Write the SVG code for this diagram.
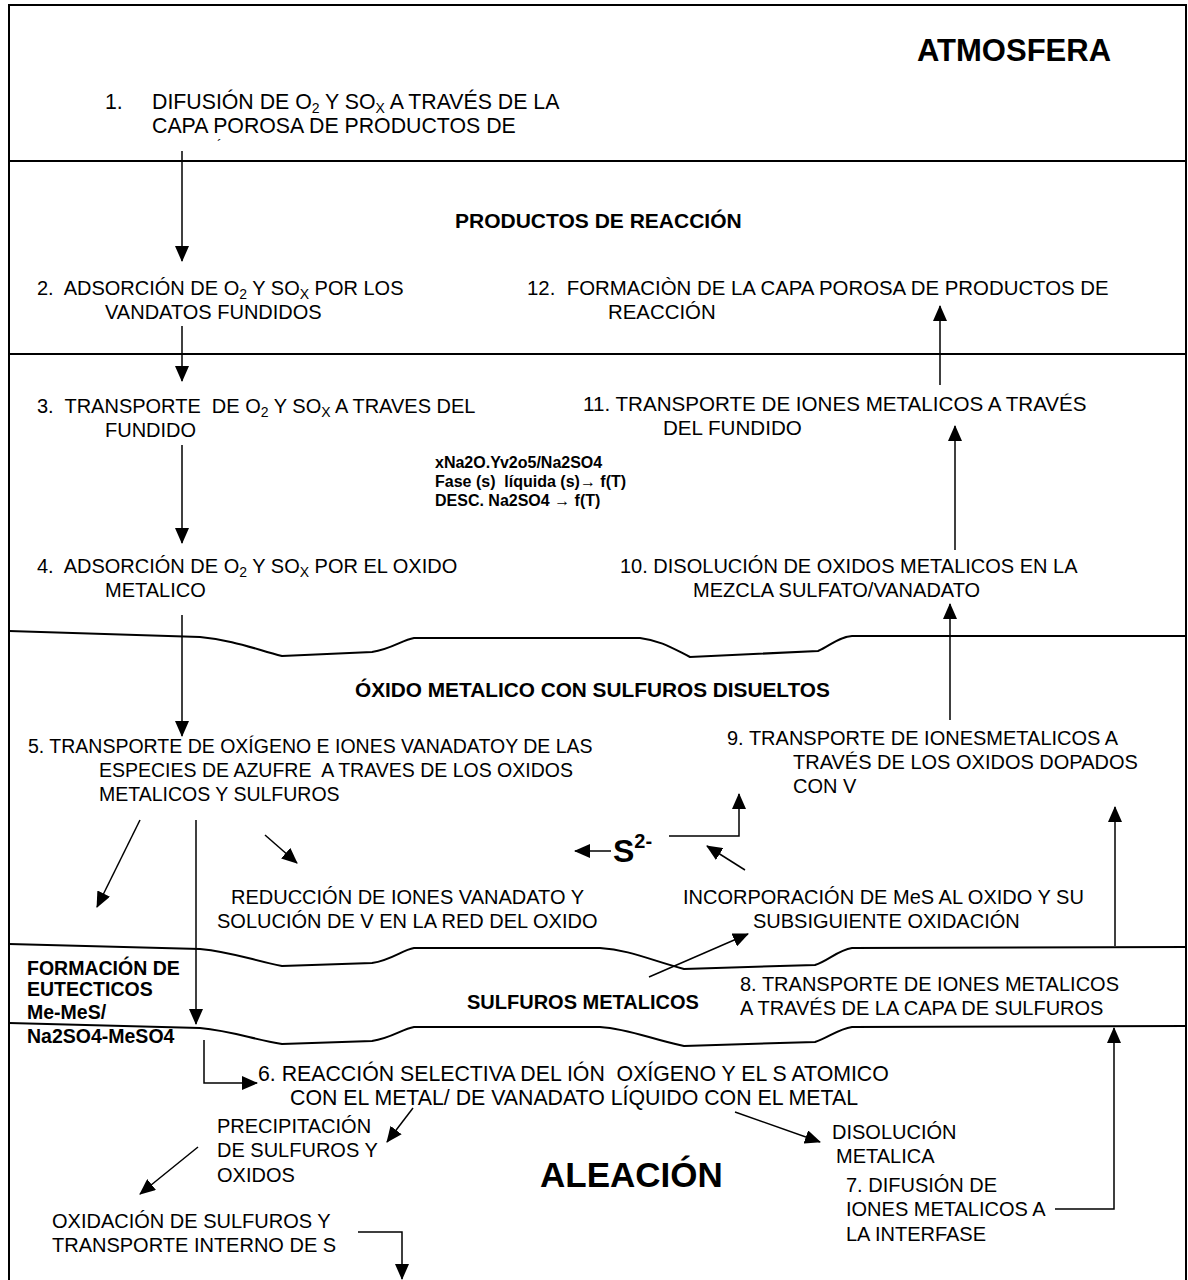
<svg xmlns="http://www.w3.org/2000/svg" width="1188" height="1280" viewBox="0 0 1188 1280">
<style>
text{font-family:"Liberation Sans",Arial,sans-serif;font-size:20px;fill:#000;white-space:pre}
.b{font-weight:bold}
.f{font-weight:bold;font-size:16px}
.big{font-size:21.3px}
.sub{font-size:14px}
.frame{fill:none;stroke:#000;stroke-width:2}
.wave{fill:none;stroke:#000;stroke-width:2}
.c{fill:none;stroke:#000;stroke-width:1.5;marker-end:url(#ah)}
</style>
<defs>
<marker id="ah" markerWidth="16" markerHeight="14" refX="15" refY="7" orient="auto" markerUnits="userSpaceOnUse"><path d="M0,0 L16,7 L0,14 z" fill="#000"/></marker>
</defs>
<rect width="1188" height="1280" fill="#fff"/>
<g id="layers">
<path class="frame" d="M9,1280 V5 H1186 V1280"/>
<line class="frame" x1="9" y1="161" x2="1186" y2="161"/>
<line class="frame" x1="9" y1="354" x2="1186" y2="354"/>
<path class="wave" d="M9,631 L200,637 C232,640 252,648 282,656 L372,652 C392,649 402,640 414,638 L640,638 C662,641 672,648 690,657 L818,651 C830,646 838,637 852,636 L1186,636"/>
<path class="wave" d="M9,944 L200,949 C232,952 252,960 282,966 L372,963 C392,960 402,950 414,948 L600,948 C630,950 650,960 684,969 L815,965 C828,961 838,950 852,948 L1186,947"/>
<path class="wave" d="M9,1023 L200,1028 C232,1031 252,1039 282,1044 L372,1041 C392,1038 402,1029 414,1027 L600,1027 C630,1029 650,1039 684,1046 L815,1042 C828,1038 838,1029 852,1027 L1186,1026"/>
</g>
<g id="atmosfera"><text class="b" x="917" y="61" style="font-size:31px">ATMOSFERA</text></g>
<g id="n1">
<text class="big" x="105" y="109">1.</text>
<text class="big" x="152" y="109">DIFUSIÓN DE O<tspan class="sub" dy="4">2</tspan><tspan dy="-4"> Y SO</tspan><tspan class="sub" dy="4">X</tspan><tspan dy="-4"> A TRAVÉS DE LA</tspan></text>
<text class="big" x="152" y="133">CAPA POROSA DE PRODUCTOS DE</text>
<text x="217" y="150" style="font-size:14px">´</text>
</g>
<g id="productos"><text class="b" x="455" y="228" style="font-size:21px">PRODUCTOS DE REACCIÓN</text></g>
<g id="n2">
<text x="37" y="295">2.  ADSORCIÓN DE O<tspan class="sub" dy="4">2</tspan><tspan dy="-4"> Y SO</tspan><tspan class="sub" dy="4">X</tspan><tspan dy="-4"> POR LOS</tspan></text>
<text x="105" y="319">VANDATOS FUNDIDOS</text>
</g>
<g id="n12">
<text x="527" y="295" style="font-size:20.4px">12.  FORMACIÒN DE LA CAPA POROSA DE PRODUCTOS DE</text>
<text x="608" y="319" style="font-size:20.4px">REACCIÓN</text>
</g>
<g id="n3">
<text x="37" y="413">3.  TRANSPORTE  DE O<tspan class="sub" dy="4">2</tspan><tspan dy="-4"> Y SO</tspan><tspan class="sub" dy="4">X</tspan><tspan dy="-4"> A TRAVES DEL</tspan></text>
<text x="105" y="437">FUNDIDO</text>
</g>
<g id="n11">
<text x="583" y="411" style="font-size:20.6px">11. TRANSPORTE DE IONES METALICOS A TRAVÉS</text>
<text x="663" y="435" style="font-size:20.6px">DEL FUNDIDO</text>
</g>
<g id="fundido">
<text class="f" x="435" y="468">xNa2O.Yv2o5/Na2SO4</text>
<text class="f" x="435" y="487">Fase (s)  líquida (s)→ f(T)</text>
<text class="f" x="435" y="506">DESC. Na2SO4 → f(T)</text>
</g>
<g id="n4">
<text x="37" y="573">4.  ADSORCIÓN DE O<tspan class="sub" dy="4">2</tspan><tspan dy="-4"> Y SO</tspan><tspan class="sub" dy="4">X</tspan><tspan dy="-4"> POR EL OXIDO</tspan></text>
<text x="105" y="597">METALICO</text>
</g>
<g id="n10">
<text x="620" y="573">10. DISOLUCIÓN DE OXIDOS METALICOS EN LA</text>
<text x="693" y="597">MEZCLA SULFATO/VANADATO</text>
</g>
<g id="oxido"><text class="b" x="355" y="697" style="font-size:20.8px">ÓXIDO METALICO CON SULFUROS DISUELTOS</text></g>
<g id="n9">
<text x="727" y="745">9. TRANSPORTE DE IONESMETALICOS A</text>
<text x="793" y="769">TRAVÉS DE LOS OXIDOS DOPADOS</text>
<text x="793" y="793">CON V</text>
</g>
<g id="n5">
<text x="28" y="753" style="font-size:19.5px">5. TRANSPORTE DE OXÍGENO E IONES VANADATOY DE LAS</text>
<text x="99" y="777" style="font-size:19.5px">ESPECIES DE AZUFRE  A TRAVES DE LOS OXIDOS</text>
<text x="99" y="801" style="font-size:19.5px">METALICOS Y SULFUROS</text>
</g>
<g id="s2"><text class="b" x="613" y="862" style="font-size:32px">S<tspan dy="-14" style="font-size:20px">2-</tspan></text></g>
<g id="reduccion">
<text x="231" y="904">REDUCCIÓN DE IONES VANADATO Y</text>
<text x="217" y="928">SOLUCIÓN DE V EN LA RED DEL OXIDO</text>
</g>
<g id="incorporacion">
<text x="683" y="904">INCORPORACIÓN DE MeS AL OXIDO Y SU</text>
<text x="753" y="928">SUBSIGUIENTE OXIDACIÓN</text>
</g>
<g id="eutecticos">
<text class="b" x="27" y="975" style="font-size:19.5px">FORMACIÓN DE</text>
<text class="b" x="27" y="996" style="font-size:19.5px">EUTECTICOS</text>
<text class="b" x="27" y="1019" style="font-size:19.5px">Me-MeS/</text>
<text class="b" x="27" y="1043" style="font-size:19.5px">Na2SO4-MeSO4</text>
</g>
<g id="sulfuros"><text class="b" x="467" y="1009">SULFUROS METALICOS</text></g>
<g id="n8">
<text x="740" y="991">8. TRANSPORTE DE IONES METALICOS</text>
<text x="740" y="1015">A TRAVÉS DE LA CAPA DE SULFUROS</text>
</g>
<g id="n6">
<text class="big" x="258" y="1081">6. REACCIÓN SELECTIVA DEL IÓN  OXÍGENO Y EL S ATOMICO</text>
<text class="big" x="290" y="1105">CON EL METAL/ DE VANADATO LÍQUIDO CON EL METAL</text>
</g>
<g id="precipitacion">
<text x="217" y="1133">PRECIPITACIÓN</text>
<text x="217" y="1157">DE SULFUROS Y</text>
<text x="217" y="1182">OXIDOS</text>
</g>
<g id="disolucion">
<text x="832" y="1139">DISOLUCIÓN</text>
<text x="836" y="1163">METALICA</text>
</g>
<g id="aleacion"><text class="b" x="540" y="1187" style="font-size:35px">ALEACIÓN</text></g>
<g id="n7">
<text x="846" y="1192">7. DIFUSIÓN DE</text>
<text x="846" y="1216">IONES METALICOS A</text>
<text x="846" y="1241">LA INTERFASE</text>
</g>
<g id="oxidacion">
<text x="52" y="1228">OXIDACIÓN DE SULFUROS Y</text>
<text x="52" y="1252">TRANSPORTE INTERNO DE S</text>
</g>
<g id="connectors">
<line class="c" x1="182" y1="151" x2="182" y2="261"/>
<line class="c" x1="182" y1="326" x2="182" y2="381"/>
<line class="c" x1="182" y1="445" x2="182" y2="543"/>
<line class="c" x1="182" y1="615" x2="182" y2="736"/>
<line class="c" x1="940" y1="385" x2="940" y2="306"/>
<line class="c" x1="955" y1="550" x2="955" y2="426"/>
<line class="c" x1="950" y1="720" x2="950" y2="604"/>
<line class="c" x1="1115" y1="946" x2="1115" y2="807"/>
<line class="c" x1="611" y1="851" x2="575" y2="851"/>
<path class="c" d="M669,836 H739 V794"/>
<line class="c" x1="745" y1="870" x2="707" y2="846"/>
<line class="c" x1="140" y1="820" x2="97" y2="907"/>
<line class="c" x1="196" y1="820" x2="196" y2="1024"/>
<line class="c" x1="265" y1="835" x2="297" y2="863"/>
<line class="c" x1="649" y1="977" x2="748" y2="934"/>
<path class="c" d="M204,1040 V1083 H257"/>
<line class="c" x1="413" y1="1108" x2="387" y2="1142"/>
<line class="c" x1="735" y1="1112" x2="820" y2="1142"/>
<line class="c" x1="198" y1="1147" x2="140" y2="1194"/>
<path class="c" d="M1055,1209 H1114 V1028"/>
<path class="c" d="M358,1232 H402 V1279"/>
</g>
</svg>
